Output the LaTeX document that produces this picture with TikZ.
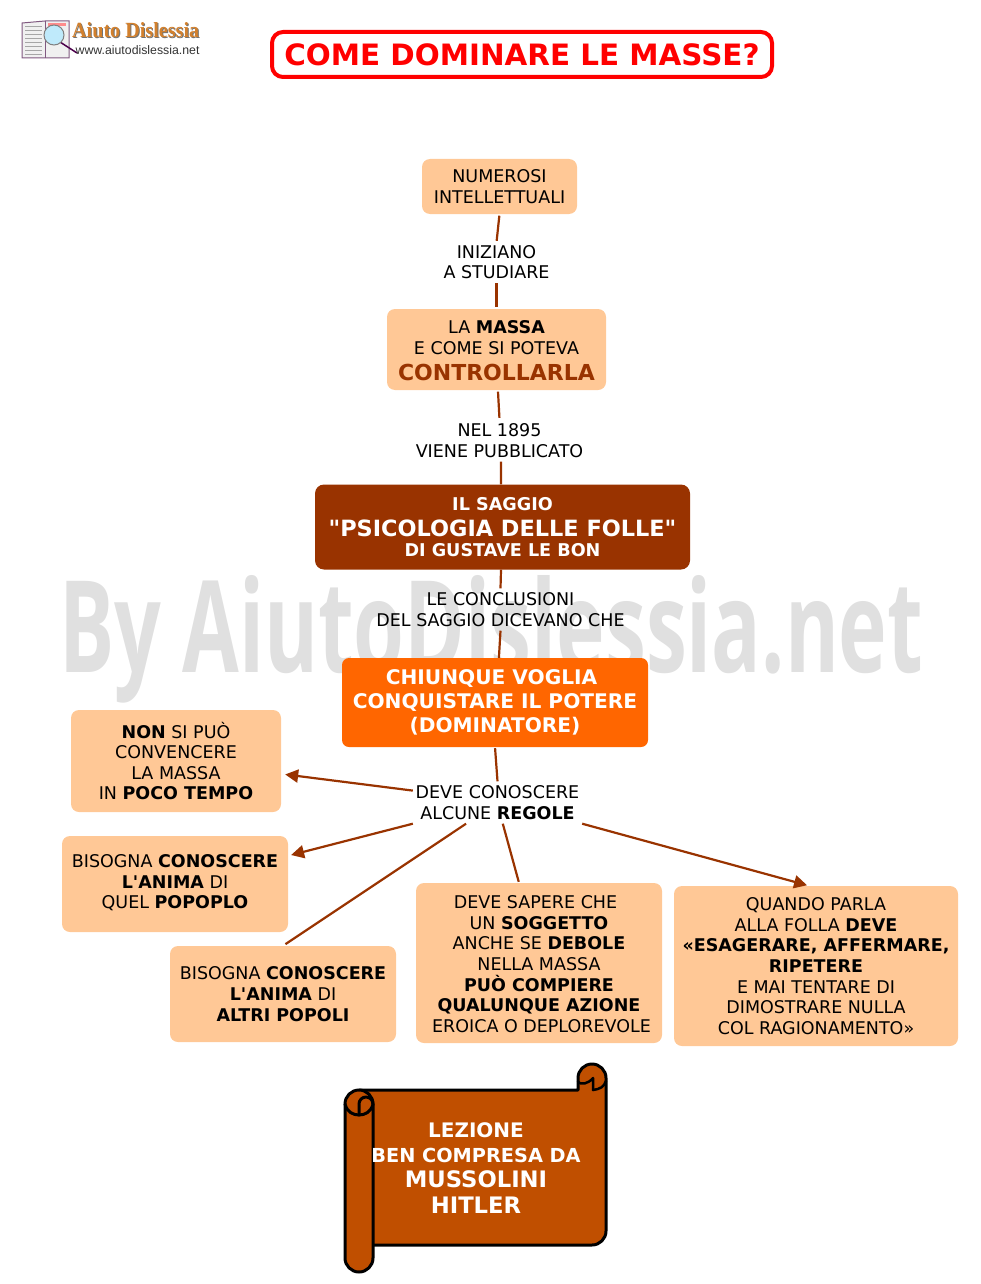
\documentclass[tikz,border=0pt]{standalone}
\usepackage{fontspec}
\usepackage{graphicx}
\setmainfont{DejaVu Sans}
\newfontfamily\plainfont{DejaVu Sans}
\newfontfamily\wmfont{Open Sans}
\newfontfamily\logofont{Liberation Serif}
\newfontfamily\urlfont{Liberation Sans}
\AtBeginDocument{\plainfont}
\usetikzlibrary{arrows.meta}
\definecolor{peach}{HTML}{FFC896}
\definecolor{brownd}{HTML}{993300}
\definecolor{orng}{HTML}{FF6600}
\definecolor{scrollc}{HTML}{C04F00}
\definecolor{wm}{HTML}{E0E0E0}
\newcommand\tp{\rule{0pt}{15pt}}
\tikzset{
  x=1pt,y=-1pt,
  pbox/.style={draw=none,fill=peach,rounded corners=8pt,align=center,inner sep=0pt,text=black,
    font=\fontsize{17.5}{20.65}\selectfont},
  lbl/.style={inner sep=0pt,align=center,font=\fontsize{17.5}{20.65}\selectfont},
  conn/.style={draw=brownd,line width=2.2pt},
  vconn/.style={conn,shorten <=1.5pt,shorten >=1.5pt},
  arr/.style={conn,-{Triangle[length=13pt,width=13pt]}},
  sline/.style={draw=black,line width=3pt,line join=round,line cap=round}
}
\begin{document}
\begin{tikzpicture}
\useasboundingbox (0,0) rectangle (981,1284);
% watermark
\node[anchor=base west,inner sep=0pt,text=wm] (wmark) at (59,672) {\resizebox{864pt}{97pt}{\wmfont\bfseries By AiutoDislessia.net}};
% logo
\fill[gray!12,draw=gray!70!violet,line width=1pt] (22,23) -- (45,21) -- (69,21) -- (69,58) -- (45,58) -- (22,58) -- cycle;
\draw[gray!70!violet,line width=1pt] (45,21) -- (45,58);
\foreach \yy in {26,30,34,38,42,46,50,54}{\draw[gray!70,line width=.7pt] (25,\yy) -- (42,\yy);}
\fill[red!45!white] (48,23) rectangle (66,26);
\draw[violet!60!black,line width=1.5pt] (60,42) -- (77,53);
\fill[cyan!25,draw=gray,line width=1pt] (54,35) circle (10);
\node[anchor=base west,inner sep=0pt,text=black!55] (logoshadow) at (73,38.5) {\logofont\bfseries\resizebox{127pt}{15pt}{Aiuto Dislessia}};
\node[anchor=base west,inner sep=0pt,text=brown!70!orange] (logotext) at (72,37.5) {\logofont\bfseries\resizebox{127pt}{15pt}{Aiuto Dislessia}};
\node[anchor=base west,inner sep=0pt,text=black!80] (logourl) at (75.5,54.5) {\urlfont\fontsize{12.3}{14}\selectfont www.aiutodislessia.net};
% title
\node[draw=red,line width=4pt,rounded corners=11pt,text=red,minimum width=500pt,minimum height=45pt,inner sep=0pt,
  font=\fontsize{29.4}{34}\selectfont\bfseries] (title) at (522,54.5) {COME DOMINARE LE MASSE?};
% main boxes
\node[pbox,minimum width=155pt,minimum height=55pt] (n1) at (499.5,186.5) {NUMEROSI\\INTELLETTUALI};
\node[pbox,minimum width=219pt,minimum height=81pt] (n2) at (496.5,349.5) {\rule{0pt}{16pt}LA \textbf{MASSA}\\E COME SI POTEVA\hspace*{10pt}\\[6pt]{\fontsize{22}{26}\selectfont\bfseries\textcolor{brownd}{CONTROLLARLA}}};
\node[fill=brownd,rounded corners=9pt,minimum width=375pt,minimum height=85pt,inner sep=0pt,align=center,text=white,
  font=\fontsize{17.6}{20.6}\selectfont\bfseries] (n3) at (502.5,527) {IL SAGGIO\\[5.5pt]{\fontsize{22.4}{26}\selectfont "PSICOLOGIA DELLE FOLLE"}\\DI GUSTAVE LE BON};
\node[fill=orng,rounded corners=7pt,minimum width=306pt,minimum height=89pt,inner sep=0pt,align=center,text=white,
  font=\fontsize{20.15}{24}\selectfont\bfseries] (n4) at (495,702.5) {CHIUNQUE VOGLIA\hspace*{7pt}\\CONQUISTARE IL POTERE\\(DOMINATORE)};
% labels
\node[lbl,minimum height=39pt] (l1) at (496.5,262) {INIZIANO\\A STUDIARE};
\node[lbl,minimum height=42pt] (l2) at (499.5,440.5) {NEL 1895\\VIENE PUBBLICATO};
\node[lbl,minimum height=42pt] (l3) at (500.5,609.5) {LE CONCLUSIONI\\DEL SAGGIO DICEVANO CHE};
\node[lbl,minimum width=169pt,minimum height=42pt] (l4) at (497.5,802.5) {DEVE CONOSCERE\\ALCUNE \textbf{REGOLE}};
% rule boxes
\node[pbox,minimum width=210pt,minimum height=102pt] (a) at (176,761) {\tp\textbf{NON} SI PUÒ\\CONVENCERE\\LA MASSA\\IN \textbf{POCO TEMPO}};
\node[pbox,minimum width=226pt,minimum height=96pt] (b) at (175,884) {BISOGNA \textbf{CONOSCERE}\\\textbf{L'ANIMA} DI\\QUEL \textbf{POPOPLO}\rule[-5pt]{0pt}{5pt}};
\node[pbox,minimum width=226pt,minimum height=96pt] (c) at (283,994) {BISOGNA \textbf{CONOSCERE}\\\textbf{L'ANIMA} DI\\\textbf{ALTRI POPOLI}};
\node[pbox,minimum width=246pt,minimum height=160pt] (d) at (539,963) {\tp DEVE SAPERE CHE\hspace*{7pt}\\UN \textbf{SOGGETTO}\hspace*{2pt}\\ANCHE SE \textbf{DEBOLE}\hspace*{2pt}\\NELLA MASSA\\\textbf{PUÒ COMPIERE}\hspace*{6pt}\\\textbf{QUALUNQUE AZIONE}\\\hspace*{5pt}EROICA O DEPLOREVOLE};
\node[pbox,minimum width=284pt,minimum height=160pt] (e) at (816,966) {QUANDO PARLA\\ALLA FOLLA \textbf{DEVE}\\\textbf{«ESAGERARE, AFFERMARE,}\\\textbf{RIPETERE}\hspace*{4pt}\\E MAI TENTARE DI\\DIMOSTRARE NULLA\\COL RAGIONAMENTO»};
% connectors
\draw[vconn] (n1.south) -- (l1.north);
\draw[vconn] (l1.south) -- (n2.north);
\draw[vconn] (n2.272) -- (l2.north);
\draw[conn] (l2.274) -- (n3.92);
\draw[conn] (n3.268) -- (l3.north);
\draw[conn] (l3.south) -- (n4.85);
\draw[conn,shorten <=1pt] (n4.south) -- (l4.north);
\draw[arr,shorten >=4pt] (l4.172.6) -- (a.-7.6);
\draw[arr,shorten >=3pt] (l4.south west) -- (b.14);
\draw[conn,shorten >=3pt] (l4.214.5) -- (c.north);
\draw[conn,shorten >=1pt] (l4.284.7) -- (d.104.7);
\draw[arr,shorten >=2pt] (l4.south east) -- (e.95.7);
% scroll
\path[sline,fill=scrollc] (578,1090) -- (578,1078) arc[start angle=180,end angle=0,radius=14pt] -- (606,1231)
  arc[start angle=0,end angle=-90,radius=14pt] -- (359,1245) -- (359,1090) -- cycle;
\path[sline,fill=scrollc] (359,1090) arc[start angle=90,end angle=180,radius=14pt] -- (345,1258)
  arc[start angle=180,end angle=360,radius=14pt] -- (373,1104) arc[start angle=0,end angle=90,radius=14pt];
\draw[sline,fill=scrollc] (345,1104) .. controls (347,1112) and (353,1115) .. (359,1115) .. controls (365,1115) and (371,1112) .. (373,1104);
\draw[sline] (359,1115) -- (359,1104) arc[start angle=180,end angle=0,radius=7pt];
\draw[sline,line width=2.5pt] (578,1082) .. controls (581,1085) and (588,1084) .. (593,1078) -- (593,1090);
\draw[sline,line width=2.5pt] (606,1081) .. controls (604,1087) and (600,1089) .. (593,1090);
\node[inner sep=0pt,align=center,text=white,font=\fontsize{19.3}{24.5}\selectfont\bfseries] (scrolltext) at (476,1168)
  {{\fontsize{20}{24.5}\selectfont LEZIONE}\\BEN COMPRESA DA\\[1pt]{\fontsize{22.7}{26}\selectfont MUSSOLINI}\\[1pt]{\fontsize{22.7}{26}\selectfont HITLER}};
\end{tikzpicture}
\end{document}
